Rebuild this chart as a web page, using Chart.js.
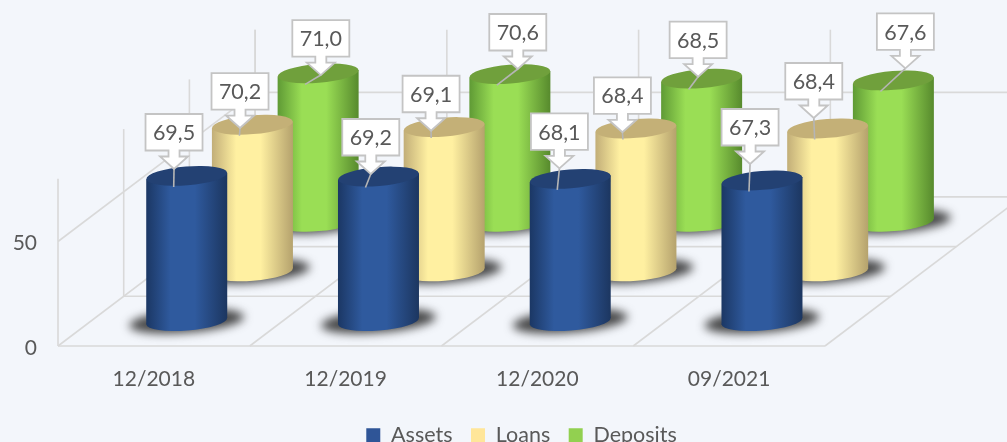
<!DOCTYPE html>
<html><head><meta charset="utf-8">
<style>html,body{margin:0;padding:0;background:#f3f6fb;overflow:hidden}canvas{display:block}</style>
<script src="https://cdn.jsdelivr.net/npm/chart.js@4/dist/chart.umd.min.js"></script>
</head><body>
<canvas id="c" width="1007" height="456" style="width:1007px;height:456px"></canvas>
<script>
const categories = ['12/2018', '12/2019', '12/2020', '09/2021'];
const assets = [69.5, 69.2, 68.1, 67.3];
const loans = [70.2, 69.1, 68.4, 68.4];
const deposits = [71.0, 70.6, 68.5, 67.6];

// projection and callout styling
const DEPTH_X = 65.7, DEPTH_Y = 49.7, TILT = -0.08, RY = 9.4;
const LEADER = [-13, 11];
const TIP_OFFSETS = [
  [[-12.7,-6.9],[-7.7,-2.5],[-10.8,-10.5],[-11.9,-16.5]],
  [[-12.4,3.3],[-13.1,3.7],[-13.5,3.8],[-13.9,-10.5]],
  [[2.7,1.7],[7.9,-5.2],[-3.5,-1.9],[12,-12.1]]
];
const STYLES = [
  {edgeL:'#1b3764',mid:'#2f5a9e',edgeR:'#1c3660',top:'#234173'},
  {edgeL:'#c2ae78',mid:'#fff0a1',edgeR:'#b5a26d',top:'#c4b077'},
  {edgeL:'#5f9a35',mid:'#9ade55',edgeR:'#578a2d',top:'#70a03c'}
];
const TEXT = '#595959', GRID = '#d9d9d9', FONT = 'Lato';

class CylinderController extends Chart.BarController {
  draw() {
    const ctx = this.chart.ctx, k = this.index, s = STYLES[k];
    const ox = (k + .5) * DEPTH_X, oy = (k + .5) * DEPTH_Y;
    this.getMeta().data.forEach(el => {
      const cx = el.x + ox, top = el.y - oy, base = el.base - oy, rx = el.width / 2, d = rx * Math.sin(-TILT);
      ctx.save();
      ctx.filter = 'blur(5px)';
      ctx.fillStyle = 'rgba(40,40,40,.85)';
      ctx.beginPath(); ctx.ellipse(cx, base, rx + 17, 11.5, TILT, 0, 7); ctx.fill();
      ctx.restore();
      ctx.save();
      const g = ctx.createLinearGradient(cx - rx, 0, cx + rx, 0);
      g.addColorStop(0, s.edgeL); g.addColorStop(.3, s.mid); g.addColorStop(.6, s.mid); g.addColorStop(1, s.edgeR);
      ctx.fillStyle = g;
      ctx.beginPath(); ctx.ellipse(cx, base, rx, RY, TILT, 0, 7); ctx.fill();
      ctx.beginPath();
      ctx.moveTo(cx - rx, top + d); ctx.lineTo(cx + rx, top - d);
      ctx.lineTo(cx + rx, base - d); ctx.lineTo(cx - rx, base + d); ctx.closePath(); ctx.fill();
      ctx.fillStyle = s.top;
      ctx.beginPath(); ctx.ellipse(cx, top, rx, RY, TILT, 0, 7); ctx.fill();
      ctx.restore();
    });
  }
}
CylinderController.id = 'cylinder';
CylinderController.defaults = Chart.BarController.defaults;
CylinderController.overrides = Chart.BarController.overrides;
Chart.register(CylinderController);

const floorPlugin = {
  id: 'floor',
  afterLayout(chart) { chart.legend.left += 109; chart.legend.right += 109; },
  beforeDatasetsDraw(chart) {
    const ctx = chart.ctx, x = chart.scales.x, y = chart.scales.y;
    const n = categories.length, cell = (x.right - x.left) / n, bottom = y.getPixelForValue(0), top = y.top, mid = y.getPixelForValue(50);
    const D = 3;
    ctx.save(); ctx.strokeStyle = GRID; ctx.lineWidth = 1.6;
    const line = (a, b, c, e) => { ctx.beginPath(); ctx.moveTo(a, b); ctx.lineTo(c, e); ctx.stroke(); };
    for (let k = 0; k <= D; k++) {
      line(x.left + k * DEPTH_X, bottom - k * DEPTH_Y, x.right + k * DEPTH_X, bottom - k * DEPTH_Y);
      line(x.left + k * DEPTH_X, bottom - k * DEPTH_Y, x.left + k * DEPTH_X, top - k * DEPTH_Y);
    }
    for (let i = 0; i <= n; i++) {
      const xf = x.left + i * cell;
      line(xf, bottom, xf + D * DEPTH_X, bottom - D * DEPTH_Y);
      line(xf + D * DEPTH_X, bottom - D * DEPTH_Y, xf + D * DEPTH_X, top - D * DEPTH_Y);
    }
    line(x.left, mid, x.left + D * DEPTH_X, mid - D * DEPTH_Y);
    line(x.left + D * DEPTH_X, mid - D * DEPTH_Y, x.right + D * DEPTH_X, mid - D * DEPTH_Y);
    ctx.restore();
  }
};

const calloutPlugin = {
  id: 'callouts',
  afterDatasetsDraw(chart) {
    const ctx = chart.ctx;
    const all = [];
    chart.data.datasets.forEach((ds, k) => {
      chart.getDatasetMeta(k).data.forEach((el, i) => {
        const cx = el.x + (k + .5) * DEPTH_X, cy = el.y - (k + .5) * DEPTH_Y;
        all.push({k, cx, cy, o: TIP_OFFSETS[k][i], v: ds.data[i]});
      });
    });
    all.sort((a, b) => b.k - a.k);
    all.forEach(c => {
      const tx = c.cx + c.o[0], ty = c.cy + c.o[1];
      ctx.save();
      ctx.strokeStyle = '#b5b5b5'; ctx.lineWidth = 1.6;
      ctx.beginPath(); ctx.moveTo(tx, ty); ctx.lineTo(c.cx + LEADER[0], c.cy + LEADER[1]); ctx.stroke();
      ctx.strokeStyle = '#c4c4c4'; ctx.lineWidth = 1.8; ctx.fillStyle = '#fff'; ctx.lineJoin = 'miter';
      const w = 28.5, hb = 18.5, hh = 36.5, hw = 14, sw = 5.5, ah = 12.5;
      ctx.beginPath();
      ctx.moveTo(tx - w, ty - hb - hh); ctx.lineTo(tx + w, ty - hb - hh); ctx.lineTo(tx + w, ty - hb);
      ctx.lineTo(tx + sw, ty - hb); ctx.lineTo(tx + sw, ty - ah); ctx.lineTo(tx + hw, ty - ah);
      ctx.lineTo(tx, ty); ctx.lineTo(tx - hw, ty - ah); ctx.lineTo(tx - sw, ty - ah); ctx.lineTo(tx - sw, ty - hb);
      ctx.lineTo(tx - w, ty - hb); ctx.closePath(); ctx.fill(); ctx.stroke();
      ctx.fillStyle = TEXT; ctx.font = '21.5px ' + FONT; ctx.textAlign = 'center'; ctx.textBaseline = 'middle';
      ctx.fillText(c.v.toFixed(1).replace('.', ','), tx, ty - hb - hh / 2 + 1);
      ctx.restore();
    });
  }
};

const mk = (label, data, color) => ({label, data, backgroundColor: color, borderWidth: 0, clip: false,
  grouped: false, barPercentage: 1, categoryPercentage: 81 / 191.75});

new Chart(document.getElementById('c'), {
  type: 'cylinder',
  data: {labels: categories, datasets: [
    mk('Assets', assets, '#2f5597'), mk('Loans', loans, '#ffe699'), mk('Deposits', deposits, '#92d050')
  ]},
  plugins: [floorPlugin, calloutPlugin],
  options: {
    responsive: false, animation: false, devicePixelRatio: 1,
    layout: {padding: {top: 178.8, right: 182, left: 0, bottom: 0}},
    scales: {
      x: {grid: {display: false}, border: {display: false},
        ticks: {color: TEXT, font: {family: FONT, size: 21}, padding: 13, maxRotation: 0, autoSkip: false},
        afterFit(s) { s.height = 60; }},
      y: {min: 0, max: 80, grid: {display: false}, border: {display: false},
        ticks: {stepSize: 50, includeBounds: false, color: TEXT, font: {family: FONT, size: 21}, padding: 13, labelOffset: 2},
        afterFit(s) { s.width = 58; }}
    },
    plugins: {
      tooltip: {enabled: false},
      legend: {position: 'bottom', labels: {color: TEXT, font: {family: FONT, size: 21.5}, boxWidth: 14, boxHeight: 14, padding: 18.5}}
    }
  }
});
</script>
</body></html>
